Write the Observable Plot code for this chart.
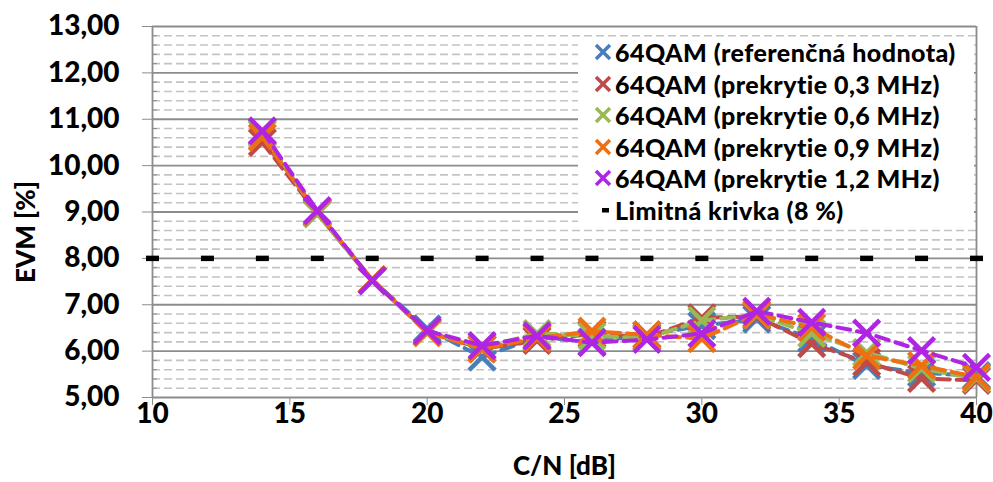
<!DOCTYPE html>
<html><head><meta charset="utf-8">
<script src="https://cdn.jsdelivr.net/npm/d3@7"></script>
<script src="https://cdn.jsdelivr.net/npm/@observablehq/plot@0.6"></script>
<style>
body{margin:0;background:#fff;}
#wrap{position:relative;width:993px;height:482px;font-family:Lato,sans-serif;font-weight:900;}
#legend{position:absolute;left:578px;top:37px;width:396px;height:190px;background:#fff;}
.row{position:absolute;left:0;height:30px;display:flex;align-items:center;font-size:25px;letter-spacing:0.45px;color:#000;white-space:nowrap;}
.row svg{margin-left:16px;margin-right:3px;}
#ytitle{position:absolute;left:25px;top:232px;transform:translate(-50%,-50%) rotate(-90deg);font-size:26px;white-space:nowrap;color:#000;}
</style></head><body><div id="wrap"></div>
<script>
// C/N [dB]
const cn = [14,16,18,20,22,24,26,28,30,32,34,36,38,40];
// EVM [%] per series
const evmRef  = [10.72,9.00,7.53,6.48,5.87,6.30,6.20,6.35,6.55,6.69,6.27,5.69,5.53,5.47];
const evm03   = [10.50,8.97,7.52,6.42,6.05,6.23,6.37,6.30,6.72,6.75,6.16,5.76,5.41,5.37];
const evm06   = [10.69,8.96,7.53,6.40,6.08,6.38,6.33,6.28,6.66,6.78,6.38,5.97,5.62,5.41];
const evm09   = [10.61,9.00,7.54,6.40,6.05,6.28,6.43,6.35,6.27,6.80,6.51,5.90,5.69,5.44];
const evm12   = [10.75,9.03,7.52,6.44,6.12,6.33,6.18,6.25,6.38,6.86,6.62,6.39,6.01,5.65];
const seriesNames = ["64QAM (referenčná hodnota)","64QAM (prekrytie 0,3 MHz)","64QAM (prekrytie 0,6 MHz)","64QAM (prekrytie 0,9 MHz)","64QAM (prekrytie 1,2 MHz)"];
const seriesColors = ["#4a7ebb","#be4b48","#98b954","#ee7012","#b024e4"];
const seriesValues = [evmRef, evm03, evm06, evm09, evm12];
// limit curve
const limitName = "Limitná krivka (8 %)";
const limitX = [10,12,14,16,18,20,22,24,26,28,30,32,34,36,38,40];
const limitY = [8,8,8,8,8,8,8,8,8,8,8,8,8,8,8,8];
// ticks and titles
const xTicks = [10,15,20,25,30,35,40];
const yMajor = [5,6,7,8,9,10,11,12,13];
const yMinor = d3.range(5, 13, 0.2).filter(v => Math.abs(v - Math.round(v)) > 1e-6);
const xTitle = "C/N [dB]";
const yTitle = "EVM [%]";

const fmt = d => d.toFixed(2).replace(".", ",");
const times = {draw(ctx, size){const r = Math.sqrt(size/Math.PI); ctx.moveTo(-r,-r); ctx.lineTo(r,r); ctx.moveTo(r,-r); ctx.lineTo(-r,r);}};
const bar = {draw(ctx, size){const r = Math.sqrt(size/Math.PI); ctx.rect(-r,-r*0.42,2*r,r*0.84);}};

const seriesMarks = [];
seriesValues.forEach((vals, k) => {
  const data = cn.map((x, i) => ({x, y: vals[i]}));
  seriesMarks.push(Plot.line(data, {x: "x", y: "y", stroke: seriesColors[k], strokeWidth: 4, strokeDasharray: "13,7"}));
  seriesMarks.push(Plot.dot(data, {x: "x", y: "y", symbol: times, r: 13, stroke: seriesColors[k], strokeWidth: 4.5, fill: "none"}));
});
const limitData = limitX.map((x, i) => ({x, y: limitY[i]}));

const chart = Plot.plot({
  width: 993, height: 482,
  marginLeft: 152, marginRight: 17, marginTop: 26, marginBottom: 85,
  x: {domain: [10, 40]},
  y: {domain: [5, 13]},
  style: {fontFamily: "Lato, sans-serif", fontWeight: 900, color: "#000", background: "#fff", overflow: "visible"},
  marks: [
    Plot.ruleY(yMinor, {stroke: "#c4c4c4", strokeWidth: 1.6, strokeDasharray: "8,4"}),
    Plot.ruleY(yMajor, {stroke: "#8c8c8c", strokeWidth: 1.8}),
    Plot.ruleX([10, 40], {stroke: "#8c8c8c", strokeWidth: 1.8}),
    Plot.axisY({ticks: yMinor, tickSize: 5, dx: 5, tickFormat: () => "", stroke: "#8c8c8c", label: null}),
    Plot.axisY({ticks: yMajor, tickSize: 10, tickPadding: 23, tickFormat: fmt, stroke: "#8c8c8c", fontSize: 28, fontWeight: 900, label: null}),
    Plot.axisX({ticks: xTicks, tickSize: 8, tickPadding: -2, tickFormat: d => String(d), stroke: "#8c8c8c", fontSize: 28, fontWeight: 900, label: null}),
    Plot.text([xTitle], {frameAnchor: "bottom", dy: 69, fontSize: 26, fontWeight: 900, lineAnchor: "middle"}),
    Plot.dot(limitData, {x: "x", y: "y", symbol: bar, r: 6.5, fill: "#000", stroke: "none"}),
    ...seriesMarks
  ]
});
const wrap = document.getElementById("wrap");
wrap.appendChild(chart);

const yt = document.createElement("div");
yt.id = "ytitle";
yt.textContent = yTitle;
wrap.appendChild(yt);

const legend = document.createElement("div");
legend.id = "legend";
const rowsTop = [0, 31.5, 63, 94.5, 126, 157.5];
seriesNames.forEach((name, k) => {
  const row = document.createElement("div");
  row.className = "row";
  row.style.top = rowsTop[k] + "px";
  row.innerHTML = `<svg width="18" height="18" viewBox="-9 -9 18 18"><path d="M-7,-7L7,7M7,-7L-7,7" stroke="${seriesColors[k]}" stroke-width="3.5" fill="none"/></svg><span>${name}</span>`;
  legend.appendChild(row);
});
const lrow = document.createElement("div");
lrow.className = "row";
lrow.style.top = rowsTop[5] + "px";
lrow.innerHTML = `<svg width="18" height="18" viewBox="-9 -9 18 18"><rect x="-1" y="-2" width="7" height="4.5" fill="#000"/></svg><span>${limitName}</span>`;
legend.appendChild(lrow);
wrap.appendChild(legend);
</script></body></html>
